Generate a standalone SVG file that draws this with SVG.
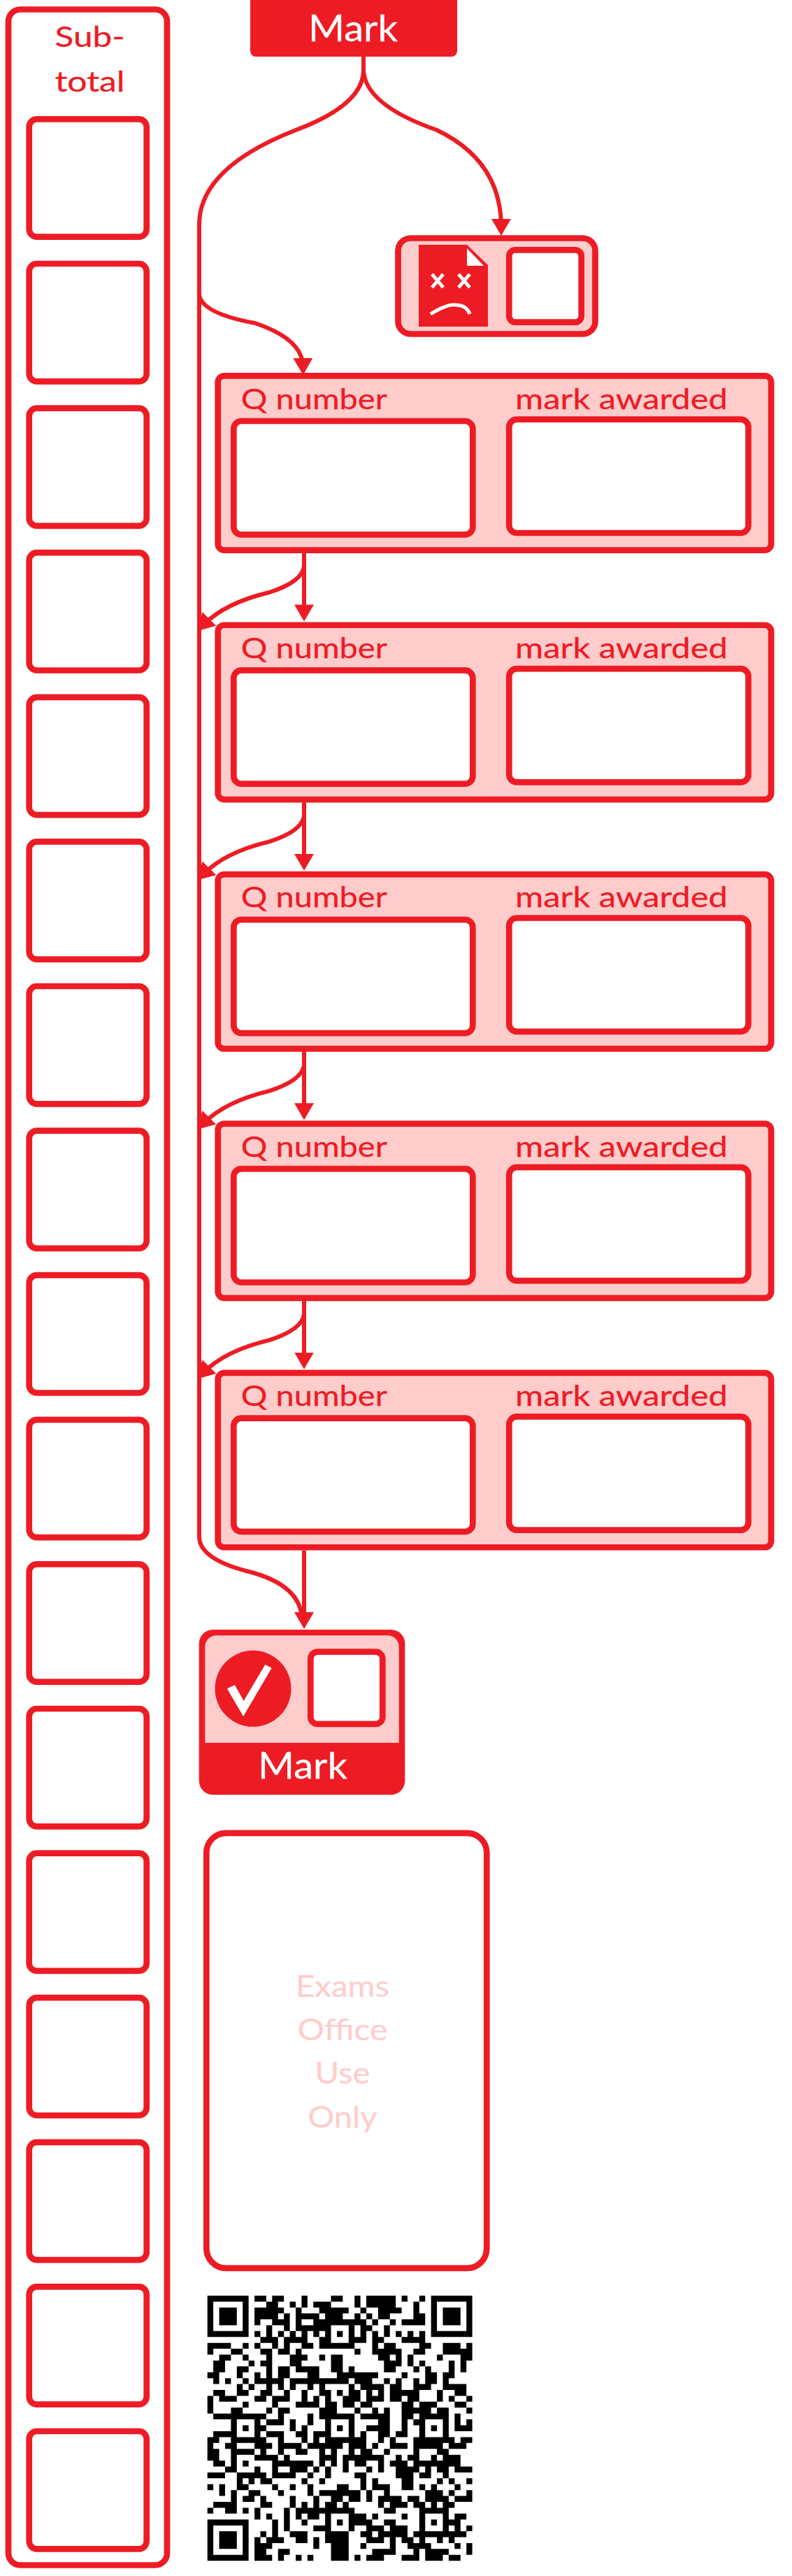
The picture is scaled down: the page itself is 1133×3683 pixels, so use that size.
<svg xmlns="http://www.w3.org/2000/svg" width="1133" height="3683" viewBox="0 0 1133 3683">
<style>
text{font-family:"Lato","Liberation Sans",sans-serif;text-anchor:middle}
.o{fill:none;stroke:#ed1c24;stroke-width:8.7}
.w{fill:#fff;stroke:#ed1c24;stroke-width:8.7}
.p{fill:#fcc;stroke:#ed1c24;stroke-width:8.7}
.r{fill:#ed1c24;stroke:#ed1c24;stroke-width:.3}
.l{font-size:41px}
.m{fill:#fff;stroke:#fff;stroke-width:.3;font-size:52px}
.e{fill:#fcc;stroke:#fcc;stroke-width:.2;font-size:43px}
.c{fill:none;stroke:#ed1c24;stroke-width:6}
.q{fill:none;stroke:#000;stroke-width:1}
</style>
<defs>
<marker id="a" markerUnits="userSpaceOnUse" markerWidth="26" markerHeight="30" refX="12" refY="14" orient="auto"><path d="M0 0L24 14L0 28z" fill="#ed1c24"/></marker>
</defs>
<g id="connectors" class="conn">
<path class="c" d="M520 81V100Q520 150 423 186Q285 240 285 321V2197"/>
<path class="c" d="M520 81V100Q522 150 625 186Q717 230 717 325" marker-end="url(#a)"/>
<path class="c" d="M285 421Q288 448 365 462Q433 485 433.500 524" marker-end="url(#a)"/>
<path class="c" d="M435 791V876.400" marker-end="url(#a)"/>
<path class="c" d="M435 791v19q-3 22-50 37q-63 15-94 46.400" marker-end="url(#a)"/>
<path class="c" d="M435 1147.400V1232.800" marker-end="url(#a)"/>
<path class="c" d="M435 1147.400v19q-3 22-50 37q-63 15-94 46.400" marker-end="url(#a)"/>
<path class="c" d="M435 1503.800V1589.200" marker-end="url(#a)"/>
<path class="c" d="M435 1503.800v19q-3 22-50 37q-63 15-94 46.400" marker-end="url(#a)"/>
<path class="c" d="M435 1860.200V1945.600" marker-end="url(#a)"/>
<path class="c" d="M435 1860.200v19q-3 22-50 37q-63 15-94 46.400" marker-end="url(#a)"/>
<path class="c" d="M435 2216.600V2317" marker-end="url(#a)"/>
<path class="c" d="M285 2197Q285 2230 360 2248Q432 2268 432 2317"/>
</g>
<g id="subtotal">
<rect class="o" x="12" y="13.500" width="227" height="3654" rx="17"/>
<text class="r l" x="128.600" y="67" textLength="100" lengthAdjust="spacingAndGlyphs">Sub-</text>
<text class="r l" x="128.600" y="131" textLength="100" lengthAdjust="spacingAndGlyphs">total</text>
<rect class="w" x="41.700" y="170.400" width="168" height="168.300" rx="11"/>
<rect class="w" x="41.700" y="377" width="168" height="168.300" rx="11"/>
<rect class="w" x="41.700" y="583.600" width="168" height="168.300" rx="11"/>
<rect class="w" x="41.700" y="790.200" width="168" height="168.300" rx="11"/>
<rect class="w" x="41.700" y="996.800" width="168" height="168.300" rx="11"/>
<rect class="w" x="41.700" y="1203.400" width="168" height="168.300" rx="11"/>
<rect class="w" x="41.700" y="1410" width="168" height="168.300" rx="11"/>
<rect class="w" x="41.700" y="1616.600" width="168" height="168.300" rx="11"/>
<rect class="w" x="41.700" y="1823.200" width="168" height="168.300" rx="11"/>
<rect class="w" x="41.700" y="2029.800" width="168" height="168.300" rx="11"/>
<rect class="w" x="41.700" y="2236.400" width="168" height="168.300" rx="11"/>
<rect class="w" x="41.700" y="2443" width="168" height="168.300" rx="11"/>
<rect class="w" x="41.700" y="2649.600" width="168" height="168.300" rx="11"/>
<rect class="w" x="41.700" y="2856.200" width="168" height="168.300" rx="11"/>
<rect class="w" x="41.700" y="3062.800" width="168" height="168.300" rx="11"/>
<rect class="w" x="41.700" y="3269.400" width="168" height="168.300" rx="11"/>
<rect class="w" x="41.700" y="3476" width="168" height="168.300" rx="11"/>
</g>
<g id="mark-start">
<rect x="358" y="-10" width="296" height="91" rx="8" fill="#ed1c24"/>
<text class="m" x="505" y="59" textLength="128" lengthAdjust="spacingAndGlyphs">Mark</text>
</g>
<g id="fail">
<rect class="p" x="569.500" y="340.500" width="282" height="137" rx="18"/>
<path d="M599 350H668L698 379V467H599z" fill="#ed1c24"/>
<path d="M668 355V380H692z" fill="#fff"/>
<path d="M618 392L634 411M634 392L618 411M656 392L672 411M672 392L656 411M616 449Q640 434 653 436Q668 437 672 449" fill="none" stroke="#fff" stroke-width="5"/>
<rect class="w" x="728.300" y="357.300" width="103.400" height="103.400" rx="9"/>
</g>
<g id="q1" transform="translate(0 533)">
<rect class="p" x="311.700" y="4.350" width="791.500" height="249.300" rx="9"/>
<text class="r l" x="449.300" y="51.700" textLength="209" lengthAdjust="spacingAndGlyphs">Q number</text>
<text class="r l" x="889" y="51.700" textLength="304" lengthAdjust="spacingAndGlyphs">mark awarded</text>
<rect class="w" x="334.300" y="69" width="342" height="162.300" rx="11"/>
<rect class="w" x="728.300" y="66.700" width="342.300" height="162.300" rx="11"/>
</g>
<g id="q2" transform="translate(0 889.400)">
<rect class="p" x="311.700" y="4.350" width="791.500" height="249.300" rx="9"/>
<text class="r l" x="449.300" y="51.700" textLength="209" lengthAdjust="spacingAndGlyphs">Q number</text>
<text class="r l" x="889" y="51.700" textLength="304" lengthAdjust="spacingAndGlyphs">mark awarded</text>
<rect class="w" x="334.300" y="69" width="342" height="162.300" rx="11"/>
<rect class="w" x="728.300" y="66.700" width="342.300" height="162.300" rx="11"/>
</g>
<g id="q3" transform="translate(0 1245.800)">
<rect class="p" x="311.700" y="4.350" width="791.500" height="249.300" rx="9"/>
<text class="r l" x="449.300" y="51.700" textLength="209" lengthAdjust="spacingAndGlyphs">Q number</text>
<text class="r l" x="889" y="51.700" textLength="304" lengthAdjust="spacingAndGlyphs">mark awarded</text>
<rect class="w" x="334.300" y="69" width="342" height="162.300" rx="11"/>
<rect class="w" x="728.300" y="66.700" width="342.300" height="162.300" rx="11"/>
</g>
<g id="q4" transform="translate(0 1602.200)">
<rect class="p" x="311.700" y="4.350" width="791.500" height="249.300" rx="9"/>
<text class="r l" x="449.300" y="51.700" textLength="209" lengthAdjust="spacingAndGlyphs">Q number</text>
<text class="r l" x="889" y="51.700" textLength="304" lengthAdjust="spacingAndGlyphs">mark awarded</text>
<rect class="w" x="334.300" y="69" width="342" height="162.300" rx="11"/>
<rect class="w" x="728.300" y="66.700" width="342.300" height="162.300" rx="11"/>
</g>
<g id="q5" transform="translate(0 1958.600)">
<rect class="p" x="311.700" y="4.350" width="791.500" height="249.300" rx="9"/>
<text class="r l" x="449.300" y="51.700" textLength="209" lengthAdjust="spacingAndGlyphs">Q number</text>
<text class="r l" x="889" y="51.700" textLength="304" lengthAdjust="spacingAndGlyphs">mark awarded</text>
<rect class="w" x="334.300" y="69" width="342" height="162.300" rx="11"/>
<rect class="w" x="728.300" y="66.700" width="342.300" height="162.300" rx="11"/>
</g>
<g id="mark-end">
<rect x="284.700" y="2330" width="294.600" height="236" rx="20" fill="#ed1c24"/>
<path d="M293.300 2491.700V2354.300a16 16 0 0 1 16-16H554.700a16 16 0 0 1 16 16V2491.700z" fill="#fcc"/>
<circle cx="362" cy="2414.300" r="54.500" fill="#ed1c24"/>
<path d="M325 2414.300L335.700 2409L348.700 2431.700L379.300 2380L388.700 2384.700L348 2454z" fill="#fff"/>
<rect class="w" x="444.300" y="2361.600" width="103" height="103.300" rx="10"/>
<text class="m" x="433" y="2543.300" textLength="128" lengthAdjust="spacingAndGlyphs">Mark</text>
</g>
<g id="exams">
<rect class="o" x="295.300" y="2620.800" width="401" height="622" rx="28"/>
<text class="e" x="490" y="2854.500" textLength="134" lengthAdjust="spacingAndGlyphs">Exams</text>
<text class="e" x="490" y="2917.400" textLength="129" lengthAdjust="spacingAndGlyphs">Office</text>
<text class="e" x="490" y="2979.400" textLength="79" lengthAdjust="spacingAndGlyphs">Use</text>
<text class="e" x="490" y="3041.500" textLength="99" lengthAdjust="spacingAndGlyphs">Only</text>
</g>
<g id="qr" transform="translate(296.700 3282.300) scale(8.420)">
<path class="q" d="M0 .5h7M8 .5h2M11 .5h2M16 .5h1M21 .5h2M25 .5h1M27 .5h5M33 .5h1M36 .5h1M38 .5h7
M0 1.500h1M6 1.500h1M10 1.500h2M14 1.500h1M16 1.500h1M18 1.500h3M25 1.500h1M27 1.500h5M35 1.500h1M38 1.500h1M44 1.500h1
M0 2.500h1M2 2.500h3M6 2.500h1M8 2.500h5M15 2.500h1M19 2.500h5M26 2.500h1M29 2.500h4M35 2.500h1M38 2.500h1M40 2.500h3M44 2.500h1
M0 3.500h1M2 3.500h3M6 3.500h1M8 3.500h4M13 3.500h1M15 3.500h4M20 3.500h3M25 3.500h1M27 3.500h1M29 3.500h2M35 3.500h2M38 3.500h1M40 3.500h3M44 3.500h1
M0 4.500h1M2 4.500h3M6 4.500h1M8 4.500h1M11 4.500h3M15 4.500h1M18 4.500h9M28 4.500h1M31 4.500h1M33 4.500h4M38 4.500h1M40 4.500h3M44 4.500h1
M0 5.500h1M6 5.500h1M10 5.500h1M13 5.500h1M15 5.500h6M24 5.500h1M26 5.500h2M30 5.500h1M38 5.500h1M44 5.500h1
M0 6.500h7M8 6.500h1M10 6.500h1M12 6.500h1M14 6.500h1M16 6.500h1M18 6.500h1M20 6.500h1M22 6.500h1M24 6.500h1M26 6.500h1M28 6.500h1M30 6.500h1M32 6.500h1M34 6.500h1M36 6.500h1M38 6.500h7
M9 7.500h3M13 7.500h4M19 7.500h2M24 7.500h3M28 7.500h2M33 7.500h4
M0 8.500h4M6 8.500h1M8 8.500h1M11 8.500h1M13 8.500h1M16 8.500h2M19 8.500h6M28 8.500h1M30 8.500h2M36 8.500h2M40 8.500h3M44 8.500h1
M0 9.500h1M4 9.500h2M9 9.500h2M12 9.500h2M15 9.500h1M25 9.500h1M28 9.500h5M35 9.500h2M40 9.500h5
M2 10.500h2M6 10.500h1M10 10.500h1M14 10.500h3M19 10.500h1M21 10.500h2M29 10.500h2M32 10.500h1M34 10.500h1M39 10.500h1M43 10.500h2
M1 11.500h2M7 11.500h1M9 11.500h2M14 11.500h2M21 11.500h2M30 11.500h3M34 11.500h1M36 11.500h1M41 11.500h1M43 11.500h1
M1 12.500h2M5 12.500h2M10 12.500h1M12 12.500h2M15 12.500h4M21 12.500h2M24 12.500h1M30 12.500h2M35 12.500h1M37 12.500h1M41 12.500h1M43 12.500h1
M0 13.500h2M5 13.500h1M8 13.500h1M10 13.500h1M12 13.500h2M17 13.500h2M22 13.500h7M33 13.500h1M37 13.500h2M40 13.500h2
M1 14.500h1M3 14.500h1M6 14.500h1M8 14.500h5M14 14.500h10M25 14.500h3M30 14.500h1M32 14.500h1M35 14.500h1M37 14.500h2M40 14.500h1
M5 15.500h1M7 15.500h1M10 15.500h1M12 15.500h1M14 15.500h1M17 15.500h1M19 15.500h1M24 15.500h1M26 15.500h4M31 15.500h2M35 15.500h3M40 15.500h4
M1 16.500h2M5 16.500h2M9 16.500h2M13 16.500h1M16 16.500h1M19 16.500h2M22 16.500h1M24 16.500h2M27 16.500h1M29 16.500h1M31 16.500h5M39 16.500h1M42 16.500h2
M0 17.500h1M2 17.500h3M8 17.500h2M11 17.500h3M16 17.500h1M18 17.500h1M20 17.500h1M23 17.500h3M27 17.500h3M31 17.500h2M34 17.500h2M39 17.500h1M41 17.500h1M44 17.500h1
M0 18.500h1M6 18.500h1M11 18.500h1M15 18.500h4M20 18.500h2M23 18.500h2M26 18.500h2M33 18.500h2M36 18.500h3M42 18.500h2
M0 19.500h1M4 19.500h2M10 19.500h1M12 19.500h2M19 19.500h3M25 19.500h1M28 19.500h1M30 19.500h1M33 19.500h5M39 19.500h2M44 19.500h1
M1 20.500h9M12 20.500h1M17 20.500h1M19 20.500h6M26 20.500h5M33 20.500h2M36 20.500h5M42 20.500h1
M4 21.500h1M8 21.500h1M10 21.500h3M14 21.500h1M17 21.500h1M20 21.500h1M24 21.500h1M29 21.500h2M33 21.500h1M35 21.500h2M40 21.500h1M42 21.500h1M44 21.500h1
M4 22.500h1M6 22.500h1M8 22.500h2M14 22.500h1M16 22.500h1M20 22.500h1M22 22.500h1M24 22.500h1M27 22.500h4M33 22.500h1M36 22.500h1M38 22.500h1M40 22.500h1M42 22.500h3
M1 23.500h4M8 23.500h1M10 23.500h3M15 23.500h2M18 23.500h3M24 23.500h1M26 23.500h1M29 23.500h2M32 23.500h2M36 23.500h1M40 23.500h1
M0 24.500h2M4 24.500h6M12 24.500h1M16 24.500h1M18 24.500h1M20 24.500h7M29 24.500h1M31 24.500h1M35 24.500h7M43 24.500h2
M0 25.500h1M3 25.500h2M8 25.500h3M12 25.500h4M17 25.500h6M24 25.500h3M28 25.500h1M31 25.500h3M35 25.500h5M41 25.500h3
M0 26.500h2M4 26.500h4M9 26.500h1M12 26.500h1M15 26.500h2M19 26.500h1M21 26.500h1M24 26.500h1M26 26.500h2M30 26.500h1M35 26.500h1M39 26.500h2
M0 27.500h2M4 27.500h1M8 27.500h4M13 27.500h1M19 27.500h3M23 27.500h7M32 27.500h1M34 27.500h2M38 27.500h1M40 27.500h3
M1 28.500h2M4 28.500h1M6 28.500h1M11 28.500h7M19 28.500h1M21 28.500h1M23 28.500h1M25 28.500h2M29 28.500h1M31 28.500h3M35 28.500h8
M3 29.500h2M8 29.500h1M11 29.500h1M14 29.500h3M18 29.500h1M20 29.500h1M23 29.500h1M27 29.500h1M29 29.500h1M32 29.500h4M37 29.500h1M39 29.500h2M42 29.500h3
M0 30.500h3M5 30.500h5M11 30.500h4M17 30.500h1M20 30.500h1M25 30.500h2M32 30.500h3M36 30.500h2M40 30.500h1
M5 31.500h1M7 31.500h1M9 31.500h2M16 31.500h1M19 31.500h1M26 31.500h1M28 31.500h1M33 31.500h2M39 31.500h1M41 31.500h1M44 31.500h1
M0 32.500h1M2 32.500h1M5 32.500h2M11 32.500h1M14 32.500h1M17 32.500h1M22 32.500h2M26 32.500h1M28 32.500h3M33 32.500h2M36 32.500h1M38 32.500h1M42 32.500h1
M2 33.500h1M4 33.500h1M7 33.500h2M12 33.500h1M17 33.500h1M19 33.500h7M27 33.500h1M30 33.500h1M37 33.500h3M41 33.500h1M44 33.500h1
M4 34.500h1M6 34.500h2M9 34.500h1M14 34.500h1M18 34.500h1M21 34.500h2M24 34.500h2M27 34.500h1M29 34.500h4M34 34.500h2M37 34.500h4M42 34.500h3
M1 35.500h4M9 35.500h2M14 35.500h1M16 35.500h1M18 35.500h1M20 35.500h2M23 35.500h1M29 35.500h1M31 35.500h3M35 35.500h2M38 35.500h1M40 35.500h2
M0 36.500h1M3 36.500h2M6 36.500h1M8 36.500h1M13 36.500h1M15 36.500h10M30 36.500h2M36 36.500h5
M8 37.500h1M10 37.500h1M13 37.500h1M15 37.500h1M17 37.500h2M20 37.500h1M24 37.500h3M28 37.500h1M33 37.500h1M36 37.500h1M40 37.500h1M42 37.500h2
M0 38.500h7M11 38.500h1M13 38.500h1M16 38.500h1M20 38.500h1M22 38.500h1M24 38.500h4M30 38.500h2M36 38.500h1M38 38.500h1M40 38.500h3
M0 39.500h1M6 39.500h1M11 39.500h1M13 39.500h1M18 39.500h3M24 39.500h1M27 39.500h3M31 39.500h3M36 39.500h1M40 39.500h1M42 39.500h1M44 39.500h1
M0 40.500h1M2 40.500h3M6 40.500h1M9 40.500h1M11 40.500h1M14 40.500h3M20 40.500h4M26 40.500h2M29 40.500h5M35 40.500h9
M0 41.500h1M2 41.500h3M6 41.500h1M8 41.500h1M10 41.500h3M15 41.500h2M18 41.500h1M20 41.500h4M27 41.500h3M31 41.500h1M33 41.500h2M36 41.500h1M39 41.500h1M41 41.500h1
M0 42.500h1M2 42.500h3M6 42.500h1M8 42.500h3M18 42.500h1M21 42.500h3M26 42.500h1M31 42.500h1M34 42.500h4M42 42.500h1M44 42.500h1
M0 43.500h1M6 43.500h1M8 43.500h2M12 43.500h2M21 43.500h3M28 43.500h4M35 43.500h1M37 43.500h4M44 43.500h1
M0 44.500h7M8 44.500h3M12 44.500h1M15 44.500h1M17 44.500h1M21 44.500h3M25 44.500h1M27 44.500h3M33 44.500h3M37 44.500h3M41 44.500h2"/>
</g>
</svg>
